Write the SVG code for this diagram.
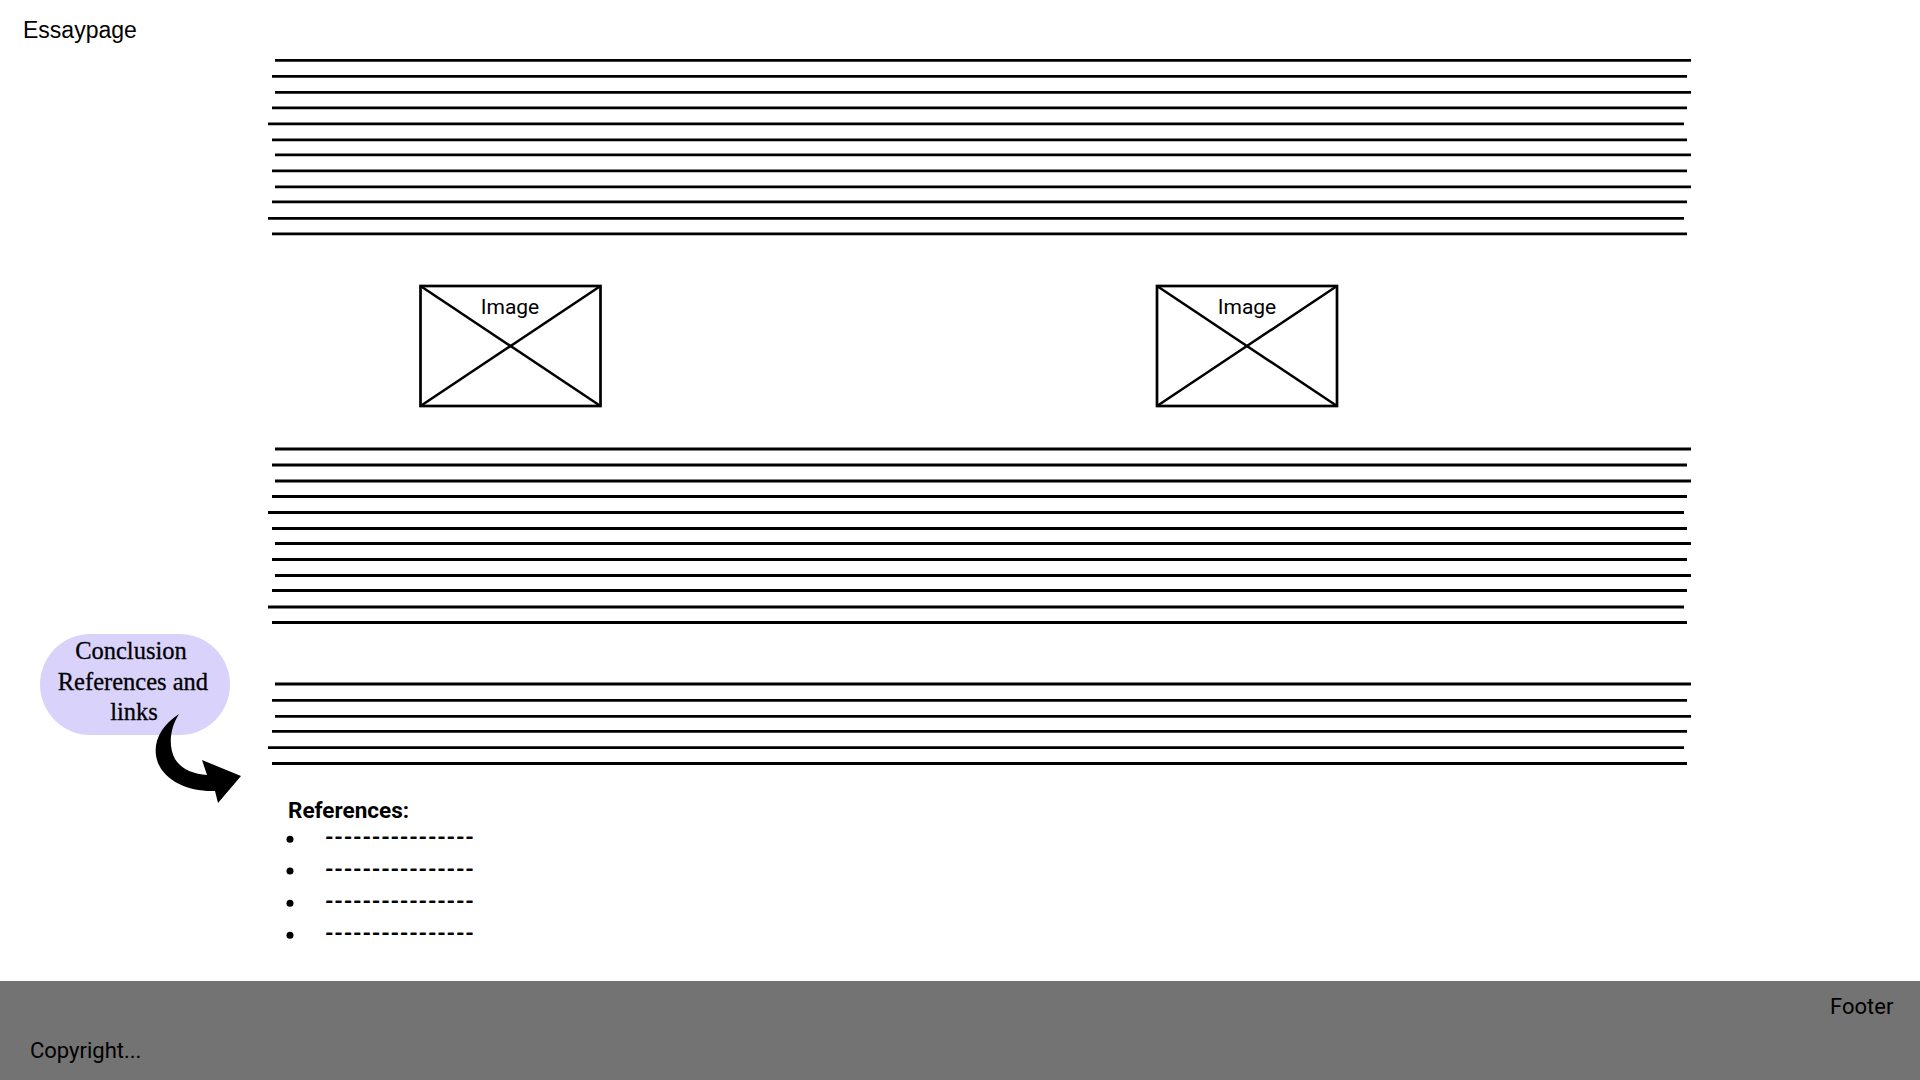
<svg xmlns="http://www.w3.org/2000/svg" width="1920" height="1080" viewBox="0 0 1920 1080">
<style>
.ln{stroke:#000;stroke-width:2.8;fill:none}
.box{stroke:#000;stroke-width:2.7;fill:#fff}
.cross{stroke:#000;stroke-width:2.5}
.sans{font-family:Roboto,"Liberation Sans",sans-serif;fill:#000}
.arial{font-family:"Liberation Sans",Arial,sans-serif;fill:#000}
.serif{font-family:"Liberation Serif","Times New Roman",serif;fill:#000}
</style>
<defs>
<g id="para">
<line class="ln" x1="275" y1="0" x2="1691" y2="0"/>
<line class="ln" x1="272" y1="16" x2="1687" y2="16"/>
<line class="ln" x1="275" y1="32" x2="1691" y2="32"/>
<line class="ln" x1="272" y1="47.5" x2="1687" y2="47.5"/>
<line class="ln" x1="268" y1="63.5" x2="1684" y2="63.5"/>
<line class="ln" x1="272" y1="79.5" x2="1687" y2="79.5"/>
<line class="ln" x1="275" y1="94.5" x2="1691" y2="94.5"/>
<line class="ln" x1="272" y1="110.5" x2="1687" y2="110.5"/>
<line class="ln" x1="275" y1="126.5" x2="1691" y2="126.5"/>
<line class="ln" x1="272" y1="141.5" x2="1687" y2="141.5"/>
<line class="ln" x1="268" y1="158" x2="1684" y2="158"/>
<line class="ln" x1="272" y1="173.5" x2="1687" y2="173.5"/>
</g>
</defs>
<rect width="1920" height="1080" fill="#fff"/>

<g id="header">
<text class="arial" x="23" y="38" font-size="23">Essaypage</text>
</g>

<g id="paragraph1">
<use href="#para" x="0" y="60.3"/>
</g>

<g id="image1">
<rect class="box" x="420.5" y="286" width="180" height="120"/>
<line class="cross" x1="420.5" y1="286" x2="600.5" y2="406"/>
<line class="cross" x1="600.5" y1="286" x2="420.5" y2="406"/>
<text class="sans" x="510" y="314" font-size="21" text-anchor="middle">Image</text>
</g>

<g id="image2">
<rect class="box" x="1157" y="286" width="180" height="120"/>
<line class="cross" x1="1157" y1="286" x2="1337" y2="406"/>
<line class="cross" x1="1337" y1="286" x2="1157" y2="406"/>
<text class="sans" x="1247" y="314" font-size="21" text-anchor="middle">Image</text>
</g>

<g id="paragraph2">
<use href="#para" x="0" y="449"/>
</g>

<g id="paragraph3">
<line class="ln" x1="275" y1="684" x2="1691" y2="684"/>
<line class="ln" x1="272" y1="700.3" x2="1687" y2="700.3"/>
<line class="ln" x1="275" y1="716.3" x2="1691" y2="716.3"/>
<line class="ln" x1="272" y1="731.3" x2="1687" y2="731.3"/>
<line class="ln" x1="268" y1="747.7" x2="1684" y2="747.7"/>
<line class="ln" x1="272" y1="763.5" x2="1687" y2="763.5"/>
</g>

<g id="conclusion-note">
<rect x="40" y="634" width="190" height="101" rx="50.5" fill="#d9d2fb"/>
<text class="serif" font-size="24.5" text-anchor="middle" stroke="#000" stroke-width="0.3">
<tspan x="134" y="659">Conclusion</tspan>
<tspan x="136" y="690">References and</tspan>
<tspan x="134" y="720">links</tspan>
</text>
</g>

<g id="connectors">
<path fill="#000" d="M179 714 C170 728 168 746 175 759 C181 769 193 774 207 775 L202 760 L241 776 L218 803 L215 791 C190 792 166 782 158 763 C151 745 160 726 179 714 Z"/>
</g>

<g id="references">
<text class="sans" x="288" y="818" font-size="22.5" font-weight="bold">References:</text>
<circle cx="290" cy="839.3" r="3.5"/>
<circle cx="290" cy="871" r="3.5"/>
<circle cx="290" cy="903.3" r="3.5"/>
<circle cx="290" cy="935.3" r="3.5"/>
<text class="sans" font-size="22" font-weight="bold" lengthAdjust="spacing">
<tspan x="325" y="845" textLength="149">----------------</tspan>
<tspan x="325" y="877" textLength="149">----------------</tspan>
<tspan x="325" y="909" textLength="149">----------------</tspan>
<tspan x="325" y="941" textLength="149">----------------</tspan>
</text>
</g>

<g id="footer">
<rect x="0" y="981" width="1920" height="99" fill="#737373"/>
<text class="sans" x="1830" y="1014" font-size="22">Footer</text>
<text class="sans" x="30" y="1058" font-size="22">Copyright...</text>
</g>
</svg>
